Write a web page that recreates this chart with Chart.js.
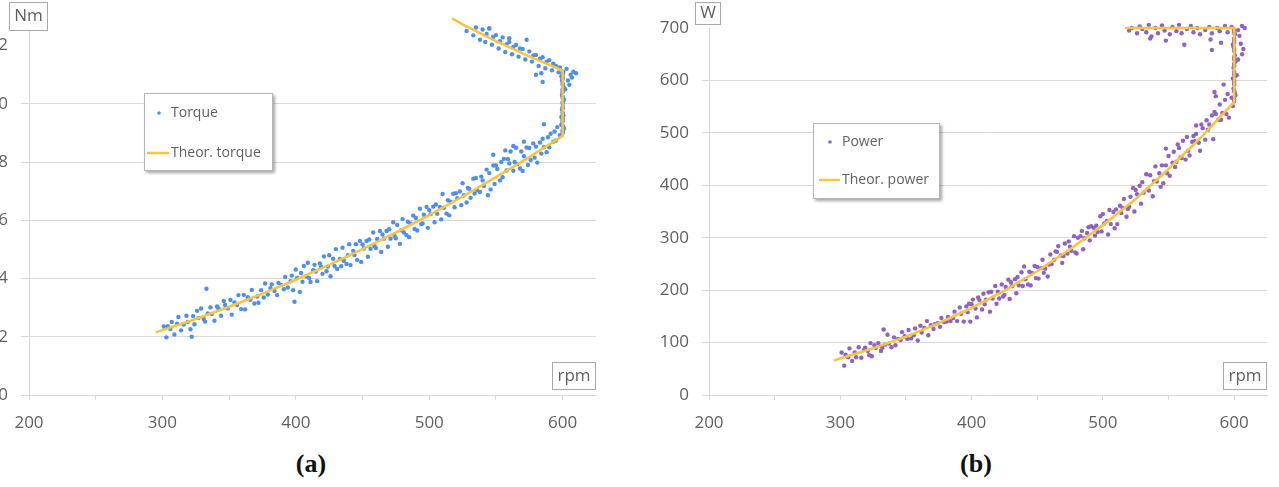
<!DOCTYPE html>
<html>
<head>
<meta charset="utf-8">
<script src="https://cdn.jsdelivr.net/npm/chart.js@4.4.1/dist/chart.umd.min.js"></script>
<style>
  body { margin: 0; background: #fff; width: 1279px; height: 487px; overflow: hidden; position: relative; }
  .panel { position: absolute; top: 0; height: 440px; }
  #panelA { left: -30px; width: 630px; }
  #panelB { left: 640px; width: 631px; }
  .cap { position: absolute; top: 449px; width: 80px; text-align: center; font: bold 26px "Liberation Serif", "DejaVu Serif", serif; color: #111; }
</style>
</head>
<body>
<div class="panel" id="panelA"><canvas id="torqueChart"></canvas></div>
<div class="panel" id="panelB"><canvas id="powerChart"></canvas></div>
<div class="cap" style="left:271px">(a)</div>
<div class="cap" style="left:936px">(b)</div>

<script>
// ---- data ----
const xTicks = [200, 250, 300, 350, 400, 450, 500, 550, 600];
const torqueTicks = [0, 2, 4, 6, 8, 10, 12];
const powerTicks = [0, 100, 200, 300, 400, 500, 600, 700];

// theoretical curves
const theorTorqueRpm = [295, 325, 350, 375, 400, 425, 450, 475, 500, 525, 550, 575, 600, 600, 575, 550, 525, 517];
const theorTorque = [2.15, 2.61, 3.03, 3.48, 3.96, 4.47, 5.01, 5.58, 6.18, 6.81, 7.48, 8.17, 8.90, 11.14, 11.63, 12.15, 12.73, 12.93];
const theorPowerRpm = [295, 325, 350, 375, 400, 425, 450, 475, 500, 525, 550, 575, 600, 600, 517];
const theorPower = [66, 89, 111, 137, 166, 199, 236, 278, 324, 374, 431, 492, 559, 700, 700];

// measured torque [rpm, Nm]
const torqueData = [
  [301,2.35],[303,1.98],[304,2.36],[306,2.27],[307,2.51],[309,2.08],[311,2.45],[312,2.68],[314,2.22],[316,2.42],
  [318,2.72],[319,2.51],[321,2.26],[322,2.0],[323,2.71],[324,2.43],[326,2.89],[327,2.64],[329,2.97],[331,2.61],
  [332,2.52],[333,3.65],[334,2.80],[336,3.01],[337,2.78],[339,2.55],[341,3.04],[342,2.97],[344,2.72],[346,3.23],
  [347,3.09],[349,2.98],[351,3.26],[352,2.76],[354,3.18],[356,3.09],[357,3.43],[359,2.95],[361,3.44],[362,2.94],
  [364,3.36],[366,3.27],[367,3.61],[369,3.14],[371,3.38],[372,3.17],[374,3.60],[376,3.35],[377,3.83],[379,3.45],
  [381,3.67],[382,3.80],[384,3.57],[386,3.43],[387,3.85],[389,3.78],[391,3.63],[392,4.05],[394,3.69],[396,3.91],
  [397,4.10],[398,3.60],[399,3.2],
  [400,4.31],[401,4.02],[403,3.54],[404,4.19],[405,3.89],[406,4.43],[408,4.07],[409,4.54],[410,4.02],[411,3.88],
  [413,4.29],[414,4.47],[415,4.24],[416,3.91],[418,4.52],[419,4.41],[420,4.16],[421,4.76],[423,4.25],[424,4.41],
  [425,4.80],[426,4.08],[428,4.68],[429,4.43],[430,5.01],[431,4.33],[433,4.67],[434,4.42],[435,5.06],[436,4.61],
  [438,4.50],[439,4.80],[440,5.18],[441,4.46],[443,4.95],[444,4.81],[445,5.18],[446,4.64],[448,5.29],[449,4.57],
  [450,5.17],[451,5.03],[453,5.29],[454,4.75],[455,5.34],[456,5.02],[458,5.58],[459,5.11],[460,5.05],[461,5.36],
  [463,5.63],[464,4.91],[465,5.51],[466,5.37],[468,5.63],[469,5.09],[470,5.69],[471,5.37],[473,5.93],[474,5.46],
  [475,5.38],[476,5.84],[478,5.19],[479,5.66],[480,6.04],[481,5.58],[483,5.49],[484,5.95],[485,5.42],[486,5.89],
  [488,6.16],[489,5.70],[490,6.08],[491,5.65],[493,6.40],[494,5.87],[495,5.89],[496,6.19],[498,6.46],[499,5.74],
  [500,6.35],[501,6.21],[503,6.47],[504,5.93],[505,6.54],[506,6.22],[508,6.46],[509,6.03],[510,6.90],[511,6.43],
  [513,6.23],[514,6.69],[515,6.17],[516,6.64],[518,6.91],[519,6.45],
  [520,6.93],[521,6.76],[523,6.99],[524,6.52],[525,7.27],[526,6.86],[528,6.61],[529,7.11],[530,7.08],[531,6.77],
  [533,7.43],[534,6.92],[535,7.45],[536,7.03],[538,6.97],[539,7.50],[540,7.37],[541,7.18],[543,7.74],[544,6.86],
  [545,7.62],[546,7.06],[548,7.88],[549,7.25],[550,7.88],[551,7.76],[553,7.37],[554,8.00],[555,7.48],[556,8.11],
  [558,7.71],[559,8.10],[560,7.95],[561,8.36],[563,7.70],[564,8.00],[565,8.49],[566,7.93],[568,7.78],[569,8.36],
  [570,7.69],[571,8.20],[573,8.50],[574,7.90],[575,8.48],[576,8.07],[578,8.64],[579,8.15],[580,8.53],[581,7.98],
  [583,8.67],[584,8.29],[585,8.80],[586,8.51],[588,8.34],[589,8.85],[590,8.51],[591,8.97],[593,8.70],[594,9.05],
  [595,8.74],[596,9.20],[598,8.92],[599,9.28],[586,9.3],[548,8.25],[557,8.4],[563,8.55],[571,8.7],
  [600,9.0],[600,9.1],[600.5,9.2],[599.5,9.3],[600,9.4],[600,9.5],[600.5,9.6],[600,9.7],[599.5,9.8],[600,9.9],
  [600,10.0],[600.5,10.1],[600,10.2],[599.5,10.3],[600,10.4],[600,10.5],[600.5,10.6],[600,10.7],[599.5,10.8],
  [600,10.9],[600,11.0],[600.5,11.1],[600,9.05],[600,9.25],[600,9.45],[600,9.65],[600,9.85],[600,10.05],
  [600,10.25],[600,10.45],[600,10.65],[600,10.85],[600,11.05],[601,9.15],[599,9.55],[601,10.15],[599,10.95],
  [603,11.2],[606,11.0],[608,11.1],[610,11.05],[604,10.8],[605,10.65],[607,10.9],[585,10.75],[602,10.5],
  [526,12.87],[528,12.50],[530,12.78],[531,12.98],[533,12.35],[535,12.62],[537,12.71],[538,12.20],[540,12.55],
  [542,12.12],[543,12.40],[545,12.58],[547,12.03],[548,12.30],[550,12.36],[552,11.90],[553,12.15],[555,12.28],
  [557,11.78],[558,12.05],[560,12.12],[562,11.70],[563,11.95],[565,12.02],[567,11.62],[568,11.90],[570,11.88],
  [572,11.52],[573,12.2],[575,11.80],[577,11.45],[578,11.66],[580,11.68],[582,11.30],[583,11.55],[585,11.60],
  [587,11.22],[588,11.45],[590,11.50],[592,11.15],[593,11.38],[595,11.30],[597,11.08],[598,11.25],[580,11.0],
  [584,11.05],[545,12.6],[533,12.95],[560,12.25]
];

// measured power [rpm, W]
const powerData = [
  [301,81],[303,56],[304,77],[306,72],[307,89],[309,65],[311,81],[312,72],[314,91],[316,71],
  [318,86],[319,90],[321,84],[322,76],[323,99],[324,74],[326,95],[327,90],[329,99],[331,84],
  [332,90],[333,125],[334,96],[336,115],[337,98],[339,91],[341,110],[342,95],[344,107],[346,105],
  [347,120],[349,112],[351,107],[352,124],[354,108],[356,114],[357,127],[359,104],[361,132],[362,119],
  [364,128],[366,141],[367,114],[369,133],[371,126],[372,135],[374,137],[376,130],[377,147],[379,139],
  [381,140],[382,149],[384,141],[386,147],[387,159],[389,141],[391,167],[392,155],[394,140],[396,169],
  [397,158],[398,174],[399,140],
  [400,173],[401,182],[403,165],[404,148],[405,186],[406,181],[408,163],[409,193],[410,173],[411,182],
  [413,196],[414,159],[415,197],[416,184],[418,208],[419,174],[420,197],[421,184],[423,211],[424,188],
  [425,191],[426,206],[428,220],[429,183],[430,215],[431,208],[433,221],[434,194],[435,225],[436,209],
  [438,234],[439,208],[440,245],[441,221],[443,211],[444,235],[445,209],[446,233],[448,246],[449,223],
  [450,244],[451,222],[453,242],[454,258],[455,233],[456,241],[458,226],[459,249],[460,268],[461,250],
  [463,258],[464,274],[465,273],[466,284],[468,266],[469,252],[470,265],[471,289],[473,270],[474,293],
  [475,283],[476,275],[478,303],[479,272],[480,270],[481,300],[483,303],[484,313],[485,278],[486,299],
  [488,309],[489,320],[490,295],[491,322],[493,319],[494,304],[495,323],[496,311],[498,341],[499,312],
  [500,345],[501,327],[503,332],[504,306],[505,353],[506,326],[508,349],[509,318],[510,354],[511,326],
  [513,361],[514,347],[515,357],[516,374],[518,340],[519,355],
  [520,359],[521,378],[523,395],[524,350],[525,391],[526,383],[528,399],[529,365],[530,406],[531,386],
  [533,421],[534,392],[535,390],[536,419],[538,379],[539,408],[540,436],[541,407],[543,423],[544,397],
  [545,438],[546,404],[548,438],[549,423],[550,456],[551,418],[553,443],[554,464],[555,435],[556,445],
  [558,471],[559,453],[560,452],[561,485],[563,449],[564,492],[565,466],[566,457],[568,483],[569,494],
  [570,484],[571,514],[573,481],[574,466],[575,516],[576,509],[578,487],[579,524],[580,506],[581,516],
  [583,533],[584,488],[585,540],[586,536],[588,525],[589,554],[590,525],[591,538],[593,563],[594,536],
  [595,574],[596,529],[598,567],[599,551],[586,570],[592,592],[548,470],[557,478],[571,498],
  [600,560],[600,568],[600.5,576],[599.5,584],[600,592],[600,600],[600.5,608],[600,616],[599.5,624],
  [600,632],[600,640],[600.5,648],[600,656],[599.5,664],[600,672],[600,680],[600.5,688],[600,696],
  [600,564],[600,580],[600,596],[600,612],[600,628],[600,644],[600,660],[600,676],[600,692],
  [601,572],[599,604],[601,636],[599,668],
  [605,670],[607,660],[604,685],[606,650],[603,640],[585,578],[583,658],[582,678],[602,610],
  [517,708],[520,695],[522,700],[524,712],[526,690],[528,703],[530,698],[531,718],[533,692],[535,706],
  [537,684],[538,712],[540,700],[542,690],[544,722],[545,705],[547,695],[549,710],[551,688],[553,702],
  [554,716],[556,694],[558,706],[560,690],[562,712],[564,698],[565,730],[567,704],[569,692],[571,714],
  [572,700],[574,688],[576,708],[578,696],[579,720],[581,702],[583,690],[585,712],[587,700],[589,694],
  [591,716],[593,704],[595,692],[597,718],[598,702],[601,708],[603,696],[606,704],[608,700],[571,731],
  [548,676],[536,680],[562,668],[590,672]
];

// ---- styling ----
const blue = '#4f8fe8';
const purple = '#8d62c4';
const yellow = '#f6c440';
const gridCol = '#d9d9d9';
const textCol = '#5f5f5f';
const tickFont = { family: 'Open Sans', size: 17 };

// unit boxes and the in-plot legend, drawn on top of the plot
const overlayPlugin = {
  id: 'overlay',
  afterDraw(chart, args, opts) {
    const { ctx, chartArea: a } = chart;
    ctx.save();

    opts.boxes.forEach(b => {
      const x = (b.fromRight ? a.right : a.left) + b.dx;
      const y = b.fromBottom ? a.bottom + b.dy : b.dy;
      ctx.fillStyle = '#fff';
      ctx.fillRect(x, y, b.w, b.h);
      ctx.strokeStyle = '#a8a8a8';
      ctx.lineWidth = 1;
      ctx.strokeRect(x + 0.5, y + 0.5, b.w - 1, b.h - 1);
      ctx.fillStyle = textCol;
      ctx.font = '17px "Open Sans"';
      ctx.textAlign = 'center';
      ctx.textBaseline = 'middle';
      ctx.fillText(b.text, x + b.w / 2, y + b.h / 2);
    });

    const L = opts.legend;
    const lx = a.left + L.dx, ly = a.top + L.dy;
    ctx.shadowColor = 'rgba(0,0,0,0.35)';
    ctx.shadowBlur = 3;
    ctx.shadowOffsetX = 2;
    ctx.shadowOffsetY = 2;
    ctx.fillStyle = '#fff';
    ctx.fillRect(lx, ly, L.w, L.h);
    ctx.shadowColor = 'transparent';
    ctx.strokeStyle = '#b5b5b5';
    ctx.lineWidth = 1;
    ctx.strokeRect(lx + 0.5, ly + 0.5, L.w - 1, L.h - 1);

    ctx.fillStyle = L.pointColor;
    ctx.beginPath();
    ctx.arc(lx + L.markX, ly + L.row1, 1.8, 0, Math.PI * 2);
    ctx.fill();

    ctx.strokeStyle = yellow;
    ctx.lineWidth = 2.5;
    ctx.beginPath();
    ctx.moveTo(lx + L.lineX0, ly + L.row2);
    ctx.lineTo(lx + L.lineX1, ly + L.row2);
    ctx.stroke();

    ctx.fillStyle = textCol;
    ctx.font = '14px "Open Sans"';
    ctx.textAlign = 'left';
    ctx.textBaseline = 'middle';
    ctx.fillText(L.labels[0], lx + L.textX, ly + L.row1);
    ctx.fillText(L.labels[1], lx + L.textX, ly + L.row2);
    ctx.restore();
  }
};

function makeChart(canvasId, cfg) {
  const toXY = arr => arr.map(([x, y]) => ({ x, y }));
  const theor = cfg.theorRpm.map((r, i) => ({ x: r, y: cfg.theorVals[i] }));
  return new Chart(document.getElementById(canvasId), {
    type: 'scatter',
    data: {
      datasets: [
        {
          label: cfg.labels[1],
          data: theor,
          showLine: true,
          borderColor: yellow,
          borderWidth: 2.6,
          pointRadius: 0,
          tension: 0,
          clip: false,
          order: 1
        },
        {
          label: cfg.labels[0],
          data: toXY(cfg.points),
          pointRadius: 2.2,
          pointBorderWidth: 0,
          pointBackgroundColor: cfg.color,
          clip: false,
          order: 2
        }
      ]
    },
    options: {
      responsive: true,
      maintainAspectRatio: false,
      animation: false,
      events: [],
      layout: { padding: { top: cfg.topPad, right: 0, left: 0, bottom: 0 } },
      plugins: {
        legend: { display: false },
        tooltip: { enabled: false },
        overlay: { boxes: cfg.boxes, legend: cfg.legend }
      },
      scales: {
        x: {
          type: 'linear',
          min: 200,
          max: 625,
          afterBuildTicks: s => { s.ticks = xTicks.map(v => ({ value: v })); },
          afterFit: s => { s.height = 45; },
          grid: { drawOnChartArea: false, drawTicks: true, tickLength: 5, color: gridCol },
          border: { display: true, color: gridCol },
          ticks: {
            autoSkip: false,
            maxRotation: 0,
            padding: 13,
            color: textCol,
            font: tickFont,
            callback: v => (v % 100 === 0 ? v : '')
          }
        },
        y: {
          min: 0,
          max: cfg.yMax,
          afterBuildTicks: s => { s.ticks = cfg.yTicks.map(v => ({ value: v })); },
          afterFit: s => { s.width = cfg.yWidth; },
          grid: {
            tickLength: cfg.yTickLen,
            color: c => (c.tick && c.tick.value === cfg.yTicks[cfg.yTicks.length - 1] ? 'rgba(0,0,0,0)' : gridCol)
          },
          border: { display: true, color: gridCol },
          ticks: { padding: 13, color: textCol, font: tickFont }
        }
      }
    },
    plugins: [overlayPlugin]
  });
}

makeChart('torqueChart', {
  labels: ['Torque', 'Theor. torque'],
  points: torqueData,
  theorRpm: theorTorqueRpm,
  theorVals: theorTorque,
  color: blue,
  yTicks: torqueTicks,
  yMax: 12.5,
  yWidth: 59,
  yTickLen: 8,
  topPad: 31,
  boxes: [
    { text: 'Nm', dx: -20, dy: 2, w: 39, h: 29 },
    { text: 'rpm', fromRight: true, fromBottom: true, dx: -44, dy: -33, w: 44, h: 28 }
  ],
  legend: { dx: 115, dy: 62, w: 129, h: 78, markX: 15, row1: 20, row2: 60, lineX0: 3, lineX1: 25, textX: 27, pointColor: blue, labels: ['Torque', 'Theor. torque'] }
});

makeChart('powerChart', {
  labels: ['Power', 'Theor. power'],
  points: powerData,
  theorRpm: theorPowerRpm,
  theorVals: theorPower,
  color: purple,
  yTicks: powerTicks,
  yMax: 700,
  yWidth: 69,
  yTickLen: 7,
  topPad: 28,
  boxes: [
    { text: 'W', dx: -14, dy: 2, w: 26, h: 23 },
    { text: 'rpm', fromRight: true, fromBottom: true, dx: -44, dy: -33, w: 44, h: 28 }
  ],
  legend: { dx: 104, dy: 95, w: 127, h: 76, markX: 17, row1: 19, row2: 57, lineX0: 6, lineX1: 27, textX: 29, pointColor: purple, labels: ['Power', 'Theor. power'] }
});
</script>
</body>
</html>
